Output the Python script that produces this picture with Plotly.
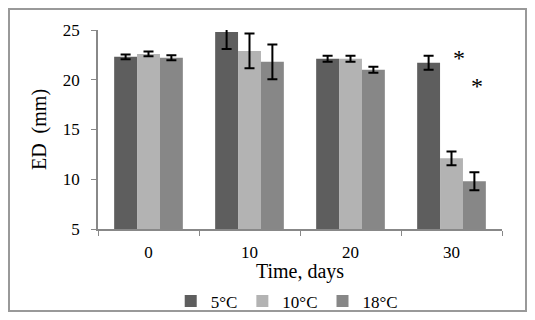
import plotly.graph_objects as go

# Data
days = ["0", "10", "20", "30"]
ed_5c = [22.3, 24.8, 22.1, 21.7]
ed_10c = [22.6, 22.9, 22.1, 12.1]
ed_18c = [22.2, 21.8, 21.0, 9.8]
err_5c = [0.25, 1.7, 0.3, 0.7]
err_10c = [0.25, 1.75, 0.3, 0.7]
err_18c = [0.25, 1.75, 0.3, 0.9]

series = [
    ("5°C", ed_5c, err_5c, "#5e5e5e"),
    ("10°C", ed_10c, err_10c, "#b3b3b3"),
    ("18°C", ed_18c, err_18c, "#878787"),
]

data = []
for name, vals, errs, color in series:
    data.append(go.Bar(
        x=days, y=vals, name=name,
        marker={"color": color, "line": {"width": 0}},
        error_y={"type": "data", "array": errs, "visible": True,
                 "color": "black", "thickness": 2, "width": 5},
    ))

font = {"family": "Liberation Serif", "size": 17, "color": "black"}

# the page body keeps its 8px margin, so the figure is a bit smaller
layout = go.Layout(
    width=519, height=304,
    margin={"l": 90, "r": 25, "t": 22, "b": 83},
    paper_bgcolor="white", plot_bgcolor="white",
    font=font,
    barmode="group", bargap=0.32, bargroupgap=0,
    showlegend=True,
    legend={"orientation": "h", "x": 0.18, "xanchor": "left",
            "yref": "container", "y": 0.035, "yanchor": "middle",
            "font": font, "bgcolor": "rgba(0,0,0,0)", "itemwidth": 30,
            "tracegroupgap": 0},
    xaxis={"type": "category", "range": [-0.5, 3.5], "automargin": False,
           "showline": True, "linecolor": "#888888",
           "linewidth": 1.5, "ticks": "outside", "tickson": "boundaries",
           "tickcolor": "#888888", "ticklen": 5, "showgrid": False,
           "tickangle": 0, "ticklabelstandoff": 7,
           "title": {"text": "Time, days", "standoff": 9}},
    yaxis={"range": [5, 25], "dtick": 5, "showline": True,
           "automargin": False,
           "linecolor": "#888888", "linewidth": 1.5, "ticks": "outside",
           "tickcolor": "#888888", "ticklen": 5, "showgrid": False,
           "zeroline": False, "ticklabelstandoff": 8,
           "title": {"text": "ED  (mm)", "standoff": 11}},
    shapes=[{"type": "rect", "xref": "paper", "yref": "paper",
             "x0": -0.2203, "x1": 1.0594, "y0": -0.412, "y1": 1.1055,
             "line": {"color": "#999999", "width": 2}}],
    annotations=[
        {"x": 3, "y": 22.2, "text": "*", "showarrow": False,
         "xshift": 7, "font": {"family": "Liberation Serif", "size": 24,
                               "color": "black"}},
        {"x": 3, "y": 19.4, "text": "*", "showarrow": False,
         "xshift": 25, "font": {"family": "Liberation Serif", "size": 24,
                                "color": "black"}},
    ],
)

fig = go.Figure(data=data, layout=layout)
fig.write_html("out.html")
